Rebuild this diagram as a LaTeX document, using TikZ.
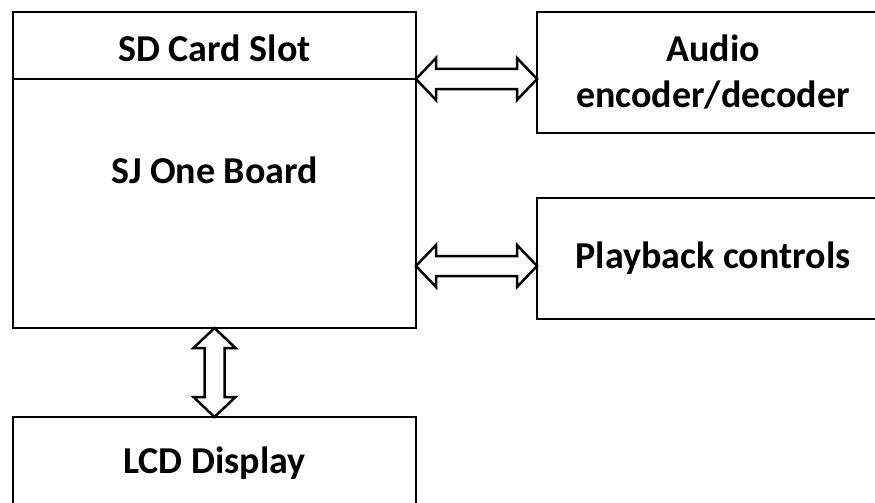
\documentclass[tikz,border=0pt]{standalone}
\usepackage{fontspec}
\setmainfont{Carlito}
\usetikzlibrary{calc,positioning}
\tikzstyle{block} = [rectangle, draw, line width=2.5pt, text centered, align=center, inner sep=0pt, outer sep=0pt, font=\bfseries\fontsize{38}{46}\selectfont]
\tikzstyle{bus} = [draw, line width=2.5pt, line join=miter, fill=white]
% hollow two-headed arrow between two points
\newcommand{\bidir}[2]{%
    \draw [bus] (#1) -- ($(#1)!20pt!(#2)!21pt!90:(#2)$) -- ($(#1)!20pt!(#2)!10pt!90:(#2)$)
        -- ($(#2)!20pt!(#1)!10pt!-90:(#1)$) -- ($(#2)!20pt!(#1)!21pt!-90:(#1)$) -- (#2)
        -- ($(#2)!20pt!(#1)!21pt!90:(#1)$) -- ($(#2)!20pt!(#1)!10pt!90:(#1)$)
        -- ($(#1)!20pt!(#2)!10pt!-90:(#2)$) -- ($(#1)!20pt!(#2)!21pt!-90:(#2)$) -- cycle;}

\begin{document}
\begin{tikzpicture}[x=1pt, y=-1pt]
            \useasboundingbox (0,0) rectangle (875,503);
            \clip (0,0) rectangle (875,503);
            \node (board) [block, minimum width=403pt, minimum height=316pt] at (214.5,170) {SJ One Board};
            \node (slot) [block, minimum width=403pt, minimum height=67pt, text height=33pt, text depth=0pt, below=0pt of board.north] {SD Card Slot};
            \node (audio) [block, minimum width=352pt, minimum height=121pt, right=121pt of board.north east, anchor=north west] {Audio\\encoder/decoder};
            \node (playback) [block, minimum width=352pt, minimum height=121pt, below=65pt of audio.south west, anchor=north west] {Playback controls};
            \node (lcd) [block, minimum width=403pt, minimum height=92pt, below=89pt of board] {LCD Display};
            \coordinate (boardBus) at ($(board.east)+(0,96)$);
            \bidir{slot.south east}{audio.west |- slot.south east}
            \bidir{boardBus}{playback.west |- boardBus}
            \bidir{board.south}{lcd.north}
        \end{tikzpicture}
\end{document}
